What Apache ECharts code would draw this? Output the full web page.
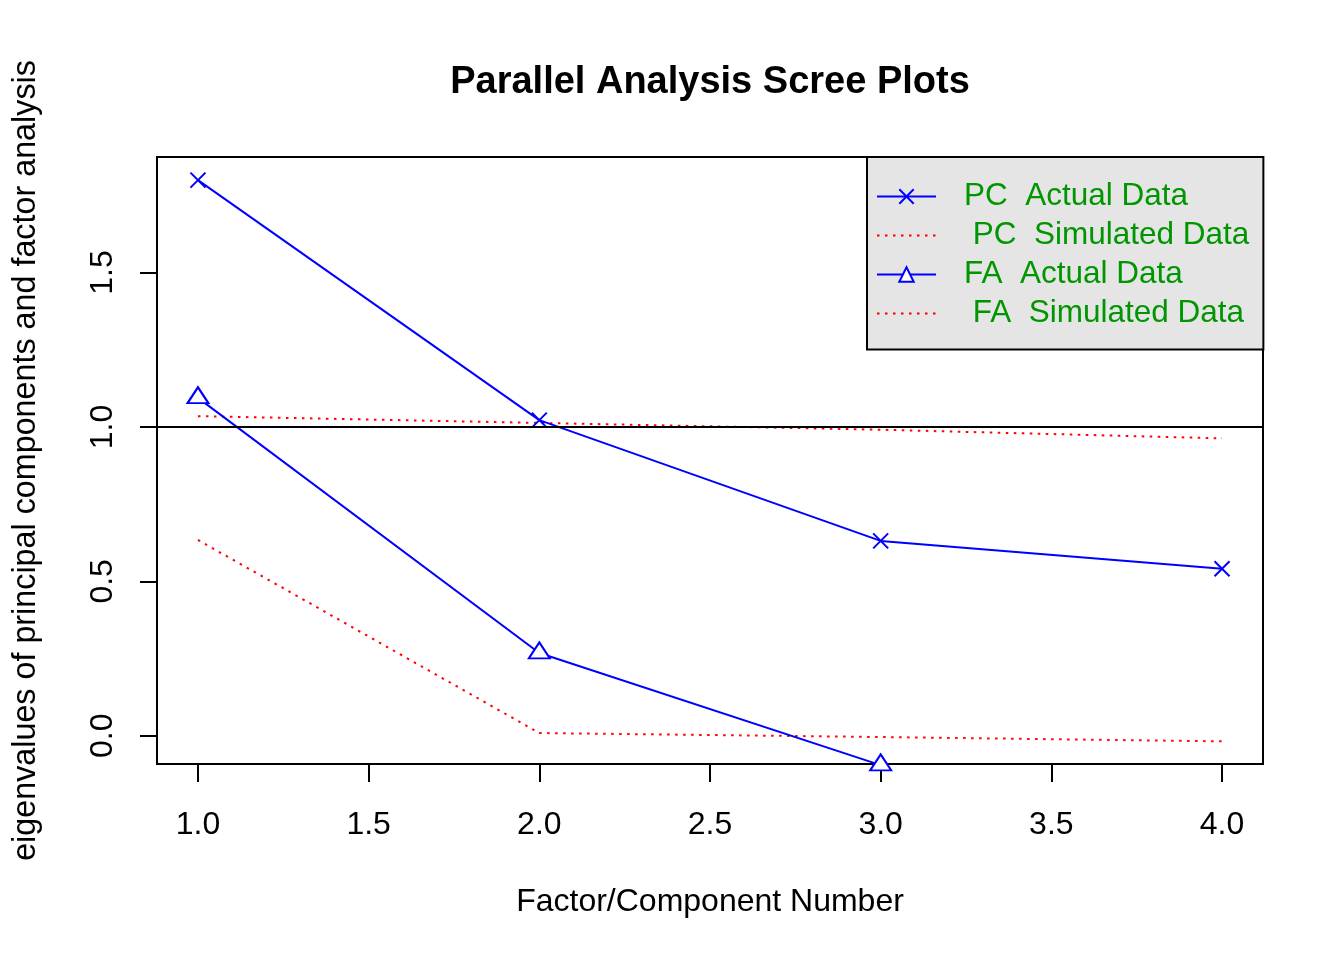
<!DOCTYPE html>
<html>
<head>
<meta charset="utf-8">
<script src="https://cdn.jsdelivr.net/npm/echarts@6/dist/echarts.min.js"></script>
<style>
html,body{margin:0;padding:0;background:#fff;}
#chart{width:1344px;height:960px;}
</style>
</head>
<body>
<div id="chart"></div>
<script>
const factorNumbers = [1, 2, 3, 4];
const pcActual = [1.799, 1.022, 0.631, 0.541];
const pcSimulated = [1.035, 1.013, 0.991, 0.963];
const faActual = [1.094, 0.268, -0.095];
const faSimulated = [0.634, 0.009, -0.004, -0.018];
const xTickValues = [1.0, 1.5, 2.0, 2.5, 3.0, 3.5, 4.0];
const yTickValues = [0.0, 0.5, 1.0, 1.5];
const legendNames = ['PC  Actual Data', ' PC  Simulated Data', 'FA  Actual Data', ' FA  Simulated Data'];
const referenceLineY = 1;

const FONT = '"Liberation Sans", Arial, sans-serif';
const BLUE = '#0000ff';
const RED = '#ff0000';
const pairs = (ys) => ys.map((y, i) => [factorNumbers[i], y]);

const chart = echarts.init(document.getElementById('chart'), null, {renderer: 'canvas'});
chart.setOption({
  backgroundColor: '#ffffff',
  animation: false,
  title: {
    text: 'Parallel Analysis Scree Plots',
    left: 705,
    top: 59,
    textAlign: 'center',
    textStyle: {fontFamily: FONT, fontWeight: 'bold', fontSize: 38, color: '#000'}
  },
  grid: {
    left: 157, right: 81, top: 157, bottom: 196,
    show: true, borderColor: '#000', borderWidth: 2, backgroundColor: 'transparent'
  },
  legend: {
    orient: 'vertical',
    left: 867,
    top: 157,
    data: [
      {name: legendNames[0]},
      {name: legendNames[1], itemStyle: {opacity: 0}},
      {name: legendNames[2]},
      {name: legendNames[3], itemStyle: {opacity: 0}}
    ],
    backgroundColor: '#e5e5e5',
    borderColor: '#000',
    borderWidth: 2,
    borderRadius: 0,
    padding: [22.5, 14, 19, 9],
    itemWidth: 59,
    itemHeight: 18,
    itemGap: 5,
    selectedMode: false,
    textStyle: {fontFamily: FONT, fontSize: 31.5, color: '#009600', lineHeight: 34, padding: [0, 0, 0, 23]}
  },
  xAxis: {
    type: 'value',
    min: 0.88,
    max: 4.12,
    name: 'Factor/Component Number',
    nameLocation: 'middle',
    nameGap: 122,
    nameTextStyle: {fontFamily: FONT, fontSize: 32, color: '#000'},
    axisLine: {show: false, onZero: false},
    splitLine: {show: false},
    axisTick: {show: true, inside: false, length: 18, lineStyle: {color: '#000', width: 2}, customValues: xTickValues},
    axisLabel: {
      show: true, margin: 45, fontFamily: FONT, fontSize: 32, color: '#000',
      customValues: xTickValues,
      formatter: (v) => v.toFixed(1)
    }
  },
  yAxis: {
    type: 'value',
    min: -0.0913,
    max: 1.874,
    name: 'eigenvalues of principal components and factor analysis',
    nameLocation: 'middle',
    nameGap: 115,
    nameRotate: 90,
    nameTextStyle: {fontFamily: FONT, fontSize: 32.3, color: '#000'},
    axisLine: {show: false, onZero: false},
    splitLine: {show: false},
    axisTick: {show: true, inside: false, length: 17, lineStyle: {color: '#000', width: 2}, customValues: yTickValues},
    axisLabel: {
      show: true, margin: 38, rotate: 90, fontFamily: FONT, fontSize: 32, color: '#000',
      customValues: yTickValues,
      formatter: (v) => v.toFixed(1)
    }
  },
  series: [
    {
      name: legendNames[0],
      type: 'line',
      data: pairs(pcActual),
      symbol: 'path://M0,0L10,10M10,0L0,10',
      symbolSize: 15,
      lineStyle: {color: BLUE, width: 2},
      itemStyle: {color: 'rgba(0,0,0,0)', borderColor: BLUE, borderWidth: 2},
      z: 3,
      markLine: {
        silent: true,
        symbol: ['none', 'none'],
        label: {show: false},
        lineStyle: {color: '#000', width: 2, type: 'solid'},
        data: [{yAxis: referenceLineY}],
        z: 5
      }
    },
    {
      name: legendNames[1],
      type: 'line',
      data: pairs(pcSimulated),
      symbol: 'none',
      lineStyle: {color: RED, width: 2, type: [2.5, 5.5]},
      itemStyle: {color: RED},
      z: 2
    },
    {
      name: legendNames[2],
      type: 'line',
      data: pairs(faActual),
      symbol: 'triangle',
      symbolSize: [21, 16],
      symbolOffset: [0, -2.67],
      clip: false,
      lineStyle: {color: BLUE, width: 2},
      itemStyle: {color: '#ffffff', borderColor: BLUE, borderWidth: 2},
      z: 3
    },
    {
      name: legendNames[3],
      type: 'line',
      data: pairs(faSimulated),
      symbol: 'none',
      lineStyle: {color: RED, width: 2, type: [2.5, 5.5]},
      itemStyle: {color: RED},
      z: 2
    }
  ]
});
</script>
</body>
</html>
